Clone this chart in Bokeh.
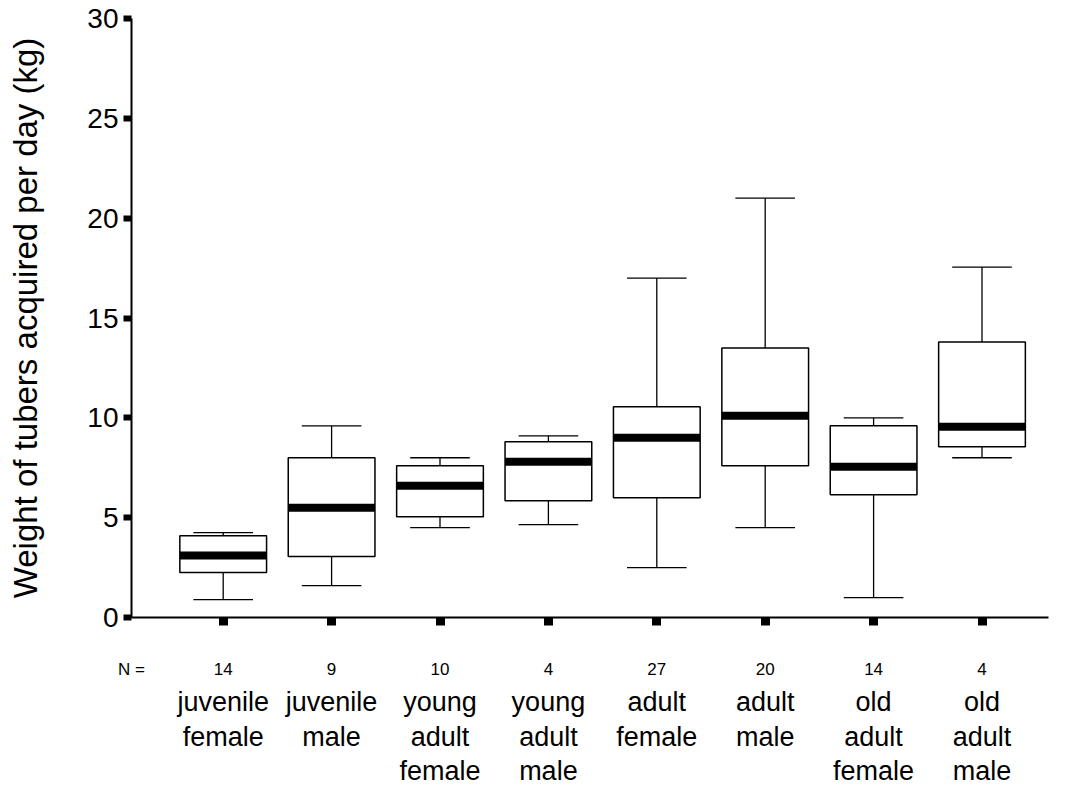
from bokeh.plotting import figure
from bokeh.models import FixedTicker, Range1d, LinearAxis, ColumnDataSource
from bokeh.embed import file_html
from bokeh.resources import INLINE

# ---------------- data ----------------
categories = ["juvenile\nfemale", "juvenile\nmale", "young\nadult\nfemale", "young\nadult\nmale",
              "adult\nfemale", "adult\nmale", "old\nadult\nfemale", "old\nadult\nmale"]
n_counts = [14, 9, 10, 4, 27, 20, 14, 4]
whisker_low = [0.9, 1.6, 4.5, 4.65, 2.5, 4.5, 1.0, 8.0]
q1 = [2.25, 3.05, 5.05, 5.85, 6.0, 7.6, 6.15, 8.55]
median = [3.1, 5.5, 6.6, 7.8, 9.0, 10.1, 7.55, 9.55]
q3 = [4.1, 8.0, 7.6, 8.8, 10.55, 13.5, 9.6, 13.8]
whisker_high = [4.25, 9.6, 8.0, 9.1, 17.0, 21.0, 10.0, 17.55]
y_ticks = [0, 5, 10, 15, 20, 25, 30]
y_title = "Weight of tubers acquired per day (kg)"
n_title = "N ="

# ---------------- layout ----------------
FONT = "Liberation Sans"
W, H = 1065, 788
BL, BR, BT, BB = 131, 17, 18, 171
frame_w = W - BL - BR
frame_h = H - BT - BB
x_step_px = 108.4
x_start = -91.7 / x_step_px
x_end = x_start + frame_w / x_step_px

xs = list(range(len(categories)))
box_w = 0.8
cap_w = 0.55

p = figure(width=W, height=H, x_range=Range1d(x_start, x_end), y_range=Range1d(0, 30),
           output_backend="svg", toolbar_location=None,
           min_border_left=BL, min_border_right=BR, min_border_top=BT, min_border_bottom=BB)
p.outline_line_color = None
p.xgrid.visible = False
p.ygrid.visible = False
p.background_fill_color = "white"
p.border_fill_color = "white"

src = ColumnDataSource(dict(
    x=xs, lo=whisker_low, q1=q1, med=median, q3=q3, hi=whisker_high,
    cap_l=[x - cap_w / 2 for x in xs], cap_r=[x + cap_w / 2 for x in xs],
    box_l=[x - box_w / 2 for x in xs], box_r=[x + box_w / 2 for x in xs],
))

# whiskers
for a, b in (("q3", "hi"), ("q1", "lo")):
    p.segment(x0="x", y0=a, x1="x", y1=b, source=src, line_color="black", line_width=1.3)
    p.segment(x0="cap_l", y0=b, x1="cap_r", y1=b, source=src, line_color="black", line_width=1.3)
# boxes
p.vbar(x="x", width=box_w, bottom="q1", top="q3", source=src,
       fill_color="white", line_color="black", line_width=1.5)
# medians
p.segment(x0="box_l", y0="med", x1="box_r", y1="med", source=src,
          line_color="black", line_width=8, line_cap="butt")

# y axis
ya = p.yaxis[0]
ya.ticker = FixedTicker(ticks=y_ticks)
ya.minor_tick_line_color = None
ya.major_tick_in = 0
ya.major_tick_out = 8
ya.major_tick_line_width = 6
ya.axis_line_width = 2
ya.major_label_text_font = FONT
ya.major_label_text_font_size = "28px"
ya.major_label_text_color = "black"
ya.major_label_standoff = 5
ya.axis_label = y_title
ya.axis_label_text_font = FONT
ya.axis_label_text_font_size = "33px"
ya.axis_label_text_font_style = "normal"
ya.axis_label_text_color = "black"
ya.axis_label_standoff = 40

# main x axis: square marks drawn as minor ticks at the categories,
# major (invisible) ticks carry the N row, including the "N =" caption at the left end
n_ticks = [x_start + 1e-9] + xs
xa = p.xaxis[0]
xa.ticker = FixedTicker(ticks=n_ticks, minor_ticks=xs)
xa.major_label_overrides = {t: s for t, s in zip(n_ticks, [n_title] + [str(n) for n in n_counts])}
xa.major_tick_line_color = None
xa.major_tick_in = 0
xa.major_tick_out = 8
xa.minor_tick_line_color = "black"
xa.minor_tick_line_width = 9
xa.minor_tick_in = 0
xa.minor_tick_out = 8
xa.axis_line_width = 2
xa.major_label_text_font = FONT
xa.major_label_text_font_size = "17px"
xa.major_label_text_color = "black"
xa.major_label_standoff = 34

# category labels, one axis per text line
rows = [c.split("\n") for c in categories]
for r, so in enumerate([5, 2, 1]):
    pairs = [(x, parts[r]) for x, parts in zip(xs, rows) if r < len(parts)]
    ticks = [t for t, _ in pairs]
    ax = LinearAxis(ticker=FixedTicker(ticks=ticks),
                    major_label_overrides={t: s for t, s in pairs},
                    axis_line_color=None, major_tick_line_color=None,
                    minor_tick_line_color=None, major_tick_in=0, major_tick_out=0,
                    major_label_text_font=FONT, major_label_text_font_size="27px",
                    major_label_text_color="black", major_label_standoff=so)
    p.add_layout(ax, "below")

open("out.html", "w").write(file_html(p, INLINE))
